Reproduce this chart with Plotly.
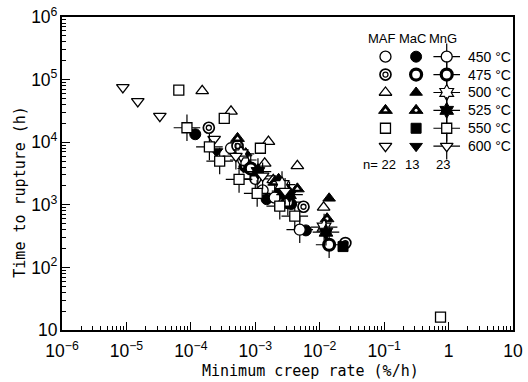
import plotly.graph_objects as go

# ---------------- data ----------------
temps = [450, 475, 500, 525, 550, 600]
groups = ["MAF", "MaC", "MnG"]
n_counts = [22, 13, 23]

# MAF (open symbols)
maf_450_rate = [4.2e-4, 1.1e-3, 1.3e-3]
maf_450_life = [8000, 3300, 1700]
maf_475_rate = [1.9e-4, 5.3e-4, 5.6e-3, 2.5e-2]
maf_475_life = [17000, 8700, 930, 245]
maf_500_rate = [1.5e-4, 4.2e-4, 1.6e-3, 1.4e-3, 4.5e-3, 1.15e-2, 1.9e-3]
maf_500_life = [66000, 31000, 10200, 4600, 4200, 910, 2500]
maf_525_rate = [5.3e-4, 4.5e-3, 2.0e-3]
maf_525_life = [11500, 1800, 2300]
maf_550_rate = [6.5e-5, 3.3e-4, 1.2e-3, 0.75]
maf_550_life = [68000, 24000, 8000, 16]
maf_600_rate = [8.8e-6, 1.5e-5, 3.3e-5, 2.3e-4]
maf_600_life = [75000, 45000, 26000, 11200]

# MaC (filled symbols)
mac_450_rate = [1.17e-4, 1.5e-3, 3.6e-3, 6.1e-3]
mac_450_life = [13400, 1230, 1030, 390]
mac_475_rate = [7.1e-4]
mac_475_life = [4200]
mac_500_rate = [7.1e-4, 2.3e-3, 1.4e-2]
mac_500_life = [6700, 2600, 1270]
mac_525_rate = [2.9e-3, 1.3e-2]
mac_525_life = [1930, 600]
mac_550_rate = [2.3e-2, 2.4e-3]
mac_550_life = [215, 1500]
mac_600_rate = [2.5e-4]
mac_600_life = [7100]

# MnG (symbols with cross ticks)
mng_450_rate = [4.9e-3, 1.0e-3, 2.0e-3, 6.5e-4]
mng_450_life = [400, 2600, 1300, 5200]
mng_475_rate = [1.4e-2, 3.2e-3, 8.5e-4]
mng_475_life = [230, 1100, 3800]
mng_500_rate = [1.17e-2, 2.6e-3, 6.0e-4]
mng_500_life = [440, 2100, 6500]
mng_525_rate = [1.25e-2, 3.4e-3, 1.1e-3]
mng_525_life = [365, 1450, 3400]
mng_550_rate = [8.7e-5, 1.94e-4, 2.8e-4, 5.6e-4, 1.07e-3, 2.4e-3, 4.1e-3]
mng_550_life = [17000, 8400, 5000, 2550, 1520, 950, 660]
mng_600_rate = [1.3e-3, 5.0e-4, 2.9e-3]
mng_600_life = [2900, 6000, 1650]

series = {
    ("MAF", 450): (maf_450_rate, maf_450_life),
    ("MAF", 475): (maf_475_rate, maf_475_life),
    ("MAF", 500): (maf_500_rate, maf_500_life),
    ("MAF", 525): (maf_525_rate, maf_525_life),
    ("MAF", 550): (maf_550_rate, maf_550_life),
    ("MAF", 600): (maf_600_rate, maf_600_life),
    ("MaC", 450): (mac_450_rate, mac_450_life),
    ("MaC", 475): (mac_475_rate, mac_475_life),
    ("MaC", 500): (mac_500_rate, mac_500_life),
    ("MaC", 525): (mac_525_rate, mac_525_life),
    ("MaC", 550): (mac_550_rate, mac_550_life),
    ("MaC", 600): (mac_600_rate, mac_600_life),
    ("MnG", 450): (mng_450_rate, mng_450_life),
    ("MnG", 475): (mng_475_rate, mng_475_life),
    ("MnG", 500): (mng_500_rate, mng_500_life),
    ("MnG", 525): (mng_525_rate, mng_525_life),
    ("MnG", 550): (mng_550_rate, mng_550_life),
    ("MnG", 600): (mng_600_rate, mng_600_life),
}

# ---------------- styles ----------------
K = "black"
W = "white"
base_sym = {450: "circle", 475: "circle", 500: "triangle-up", 525: "triangle-up",
            550: "square", 600: "triangle-down"}


def layers(group, temp):
    """list of (symbol, size, fill, line_width) drawn bottom to top"""
    if group == "MAF":
        if temp == 475:
            return [("circle", 11, W, 1.7), ("circle-open", 5, K, 1.3)]
        if temp == 525:
            return [("triangle-up", 12, K, 1), ("triangle-up", 4, W, 0)]
        sz = 10 if temp == 550 else 11
        return [(base_sym[temp], sz, W, 1.3)]
    if group == "MaC":
        if temp == 475:
            return [("circle", 11, W, 3.2)]
        if temp == 525:
            return [("triangle-up", 12, K, 1), ("circle", 3, W, 0)]
        sz = 10 if temp == 550 else 11
        return [(base_sym[temp], sz, K, 1)]
    # MnG
    out = [("cross-thin-open", 19, K, 1.2)]
    if temp == 450:
        out.append(("circle", 11, W, 1.3))
    elif temp == 475:
        out.append(("circle", 11, W, 3.2))
    elif temp == 500:
        out.append(("hexagram", 12, W, 1.2))
    elif temp == 525:
        out.append(("hexagram", 12, K, 1))
    elif temp == 550:
        out.append(("square", 10, W, 1.3))
    else:
        out.append(("triangle-down", 11, W, 1.3))
    return out


fig = go.Figure()


def add_marks(x, y, group, temp, xa, ya):
    for sym, sz, fill, lw in layers(group, temp):
        fig.add_trace(go.Scatter(
            x=x, y=y, mode="markers", xaxis=xa, yaxis=ya, showlegend=False,
            hoverinfo="skip", cliponaxis=False,
            marker=dict(symbol=sym, size=sz, color=fill,
                        line=dict(color=K, width=lw)),
        ))


for (g, t), (xr, yl) in series.items():
    add_marks(xr, yl, g, t, "x", "y")

# legend block drawn on a helper axis pair (columns = groups, rows = temperatures)
for j, g in enumerate(groups):
    for i, t in enumerate(temps):
        add_marks([j], [i], g, t, "x2", "y2")

FONT = "Liberation Sans"
LF = dict(size=13, family=FONT, color=K)
TF = dict(size=14, family=FONT, color=K)
ann = []
for j, g in enumerate(groups):
    ann.append(dict(x=j - 0.12, y=-1, xref="x2", yref="y2", text=g, showarrow=False, font=LF))
for i, t in enumerate(temps):
    ann.append(dict(x=2.62, y=i, xref="x2", yref="y2", text=f"{t} °C", showarrow=False,
                    xanchor="left", font=TF))
ann.append(dict(x=0.4, y=6, xref="x2", yref="y2", text=f"n= {n_counts[0]}",
                showarrow=False, xanchor="right", font=LF))
for j in (1, 2):
    ann.append(dict(x=j - 0.12, y=6, xref="x2", yref="y2", text=str(n_counts[j]),
                    showarrow=False, font=LF))

TFONT = "DejaVu Sans Mono"

axis_common = dict(
    type="log", showline=True, linecolor=K, linewidth=1.5, mirror=True,
    ticks="inside", ticklen=8, tickwidth=1.2, tickcolor=K, showgrid=False,
    zeroline=False, exponentformat="power", dtick=1, ticklabeloverflow="allow",
    tickfont=dict(size=14, family=FONT, color=K),
    minor=dict(ticks="inside", ticklen=4, tickwidth=1, tickcolor=K, showgrid=False),
)

L, R, T, B = 62, 523, 13, 330
PW, PH = R - L, B - T

fig.update_layout(
    width=528, height=382,
    margin=dict(l=L, r=528 - R, t=T, b=382 - B),
    paper_bgcolor=W, plot_bgcolor=W,
    showlegend=False,
    xaxis=dict(range=[-6, 1], title=None, ticklabelstandoff=5, **axis_common),
    yaxis=dict(range=[1, 6], title=None, **axis_common),
    xaxis2=dict(domain=[(377 - L) / PW, 1.0], range=[-0.5, -0.5 + (R - 377) / 31.3],
                anchor="y2", visible=False, fixedrange=True),
    yaxis2=dict(domain=[(B - 171) / PH, (B - 26) / PH], range=[6.5, -1.5],
                anchor="x2", visible=False, fixedrange=True),
    annotations=ann + [
        dict(x=(316 - L) / PW, y=-(372 - B) / PH, xref="paper", yref="paper",
             text="Minimum creep rate (%/h)", showarrow=False, yanchor="middle",
             font=dict(size=15, family=TFONT, color=K)),
        dict(x=-(L - 19) / PW, y=(B - 190) / PH, xref="paper", yref="paper",
             text="Time to rupture (h)", showarrow=False, textangle=-90,
             xanchor="center", yanchor="middle",
             font=dict(size=15, family=TFONT, color=K)),
    ],
)

fig.write_html("out.html")
